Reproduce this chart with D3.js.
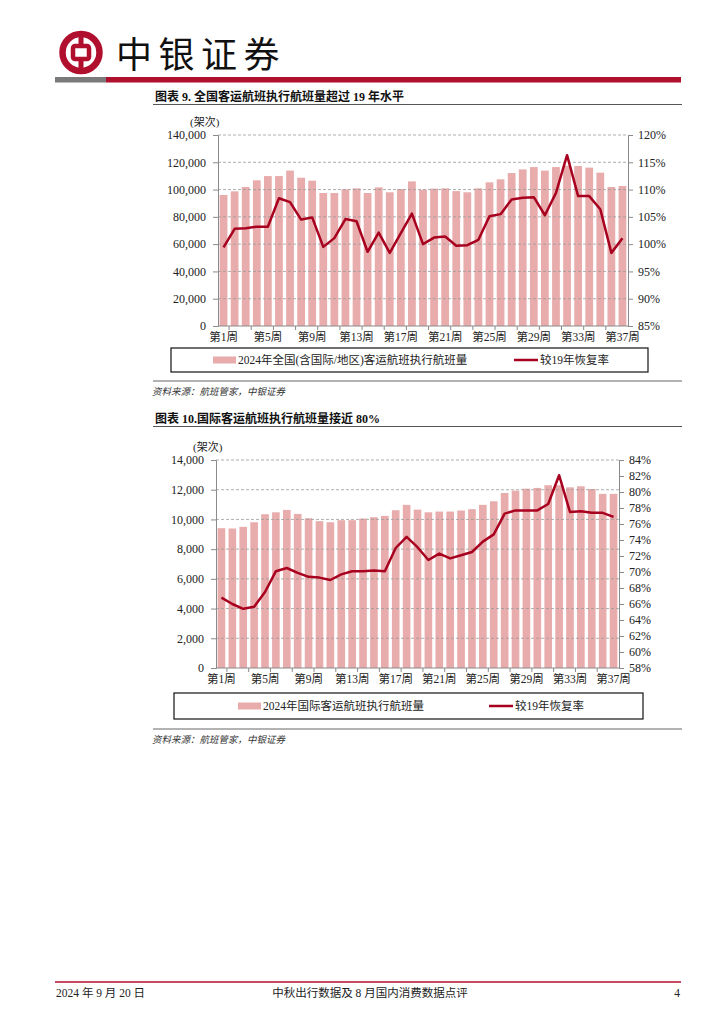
<!DOCTYPE html>
<html>
<head>
<meta charset="utf-8">
<script src="https://cdn.jsdelivr.net/npm/d3@7"></script>
<style>
  html, body { margin: 0; padding: 0; background: #fff; }
  svg { display: block; }
</style>
</head>
<body>
<svg id="page" width="724" height="1024"></svg>
<script>
// ---------------- DATA ----------------
const weeks = ["第1周","第2周","第3周","第4周","第5周","第6周","第7周","第8周","第9周","第10周",
  "第11周","第12周","第13周","第14周","第15周","第16周","第17周","第18周","第19周","第20周",
  "第21周","第22周","第23周","第24周","第25周","第26周","第27周","第28周","第29周","第30周",
  "第31周","第32周","第33周","第34周","第35周","第36周","第37周"];
const shownWeekLabels = ["第1周","第5周","第9周","第13周","第17周","第21周","第25周","第29周","第33周","第37周"];

// Chart 1: all passenger flights (incl. international / regional)
const allFlights = [96000, 98700, 101900, 106800, 109900, 109900, 113900, 108700, 106500, 97500,
  97500, 100200, 100900, 97500, 101600, 98000, 100400, 106000, 99900, 100700,
  100900, 98900, 98000, 100900, 105300, 107500, 112100, 114800, 116500, 113900,
  116500, 117500, 117300, 116100, 112400, 101900, 102600];
const allRate = [99.4, 102.8, 102.9, 103.2, 103.2, 108.4, 107.7, 104.5, 104.9, 99.5,
  101.1, 104.6, 104.2, 98.6, 102.1, 98.4, 102.0, 105.6, 100.0, 101.2,
  101.4, 99.7, 99.8, 100.8, 105.1, 105.5, 108.2, 108.5, 108.6, 105.3,
  109.4, 116.3, 108.8, 108.8, 106.4, 98.4, 101.1];
const allLeftTicks = [0, 20000, 40000, 60000, 80000, 100000, 120000, 140000];
const allRightTicks = [85, 90, 95, 100, 105, 110, 115, 120];

// Chart 2: international passenger flights
const intlFlights = [9410, 9390, 9500, 9810, 10350, 10480, 10640, 10370, 10080, 9880,
  9810, 9950, 9950, 10060, 10150, 10240, 10620, 10980, 10660, 10480,
  10530, 10530, 10600, 10690, 10980, 11220, 11780, 11940, 12070, 12120,
  12300, 12300, 12160, 12230, 12050, 11720, 11720];
const intlRate = [66.8, 66.0, 65.4, 65.65, 67.5, 70.1, 70.5, 69.9, 69.4, 69.3,
  69.0, 69.7, 70.1, 70.1, 70.2, 70.1, 73.0, 74.4, 73.1, 71.5,
  72.3, 71.7, 72.1, 72.5, 73.8, 74.7, 77.3, 77.7, 77.7, 77.7,
  78.5, 82.1, 77.5, 77.6, 77.4, 77.4, 76.9];
const intlLeftTicks = [0, 2000, 4000, 6000, 8000, 10000, 12000, 14000];
const intlRightTicks = [58, 60, 62, 64, 66, 68, 70, 72, 74, 76, 78, 80, 82, 84];

// ---------------- STYLE ----------------
const FONT = "'Liberation Serif', 'Noto Sans CJK SC', serif";
const BAR_COLOR = "#e8acac";
const LINE_COLOR = "#a8001f";
const BRAND_RED = "#b10f2e";
const AXIS_COLOR = "#8a8a8a";
const GRID_COLOR = "#9a9a9a";

const svg = d3.select("#page");

// ---------------- HEADER ----------------
const logo = svg.append("g").attr("transform", "translate(81,52.5)");
logo.append("circle").attr("r", 18.5).attr("fill", "none").attr("stroke", BRAND_RED).attr("stroke-width", 6.5);
logo.append("rect").attr("x", -8).attr("y", -6.5).attr("width", 16).attr("height", 13).attr("rx", 2)
  .attr("fill", "none").attr("stroke", BRAND_RED).attr("stroke-width", 4.5);
logo.append("rect").attr("x", -2.5).attr("y", -19).attr("width", 5).attr("height", 11).attr("fill", BRAND_RED);
logo.append("rect").attr("x", -2.5).attr("y", 8).attr("width", 5).attr("height", 11).attr("fill", BRAND_RED);

svg.append("text").attr("x", 116).attr("y", 52).attr("dominant-baseline", "central")
  .attr("font-family", "'Noto Sans CJK SC', sans-serif").attr("font-size", 36)
  .attr("letter-spacing", 6.5).attr("fill", "#111").text("中银证券");

svg.append("rect").attr("x", 55).attr("y", 77).attr("width", 51).attr("height", 5.5).attr("fill", "#7a7a7a");
svg.append("rect").attr("x", 106).attr("y", 77).attr("width", 575).attr("height", 5.5).attr("fill", BRAND_RED);

// ---------------- FOOTER ----------------
svg.append("line").attr("x1", 55).attr("x2", 681).attr("y1", 982).attr("y2", 982)
  .attr("stroke", BRAND_RED).attr("stroke-width", 1.3);
svg.append("text").attr("x", 56).attr("y", 993).attr("dominant-baseline", "central")
  .attr("font-family", FONT).attr("font-size", 11.5).attr("fill", "#222").text("2024 年 9 月 20 日");
svg.append("text").attr("x", 370).attr("y", 993).attr("dominant-baseline", "central").attr("text-anchor", "middle")
  .attr("font-family", FONT).attr("font-size", 11.5).attr("fill", "#222").text("中秋出行数据及 8 月国内消费数据点评");
svg.append("text").attr("x", 680).attr("y", 993).attr("dominant-baseline", "central").attr("text-anchor", "end")
  .attr("font-family", FONT).attr("font-size", 11.5).attr("fill", "#222").text("4");

// ---------------- CHART FUNCTION ----------------
function drawChart(cfg) {
  const g = svg.append("g");
  // title and underline
  g.append("text").attr("x", 155).attr("y", cfg.titleY).attr("dominant-baseline", "central")
    .attr("font-family", FONT).attr("font-size", 12).attr("font-weight", "bold").attr("fill", "#111")
    .text(cfg.title);
  g.append("line").attr("x1", 153).attr("x2", 682).attr("y1", cfg.titleY + 7.5).attr("y2", cfg.titleY + 7.5)
    .attr("stroke", "#555").attr("stroke-width", 1.2);

  const x = d3.scaleBand().domain(weeks).range([cfg.left, cfg.right]).paddingInner(0.3).paddingOuter(0.15);
  const yL = d3.scaleLinear().domain([cfg.leftTicks[0], cfg.leftTicks[cfg.leftTicks.length - 1]]).range([cfg.bottom, cfg.top]);
  const yR = d3.scaleLinear().domain([cfg.rightTicks[0], cfg.rightTicks[cfg.rightTicks.length - 1]]).range([cfg.bottom, cfg.top]);

  // unit label
  g.append("text").attr("x", cfg.unitX).attr("y", cfg.unitY).attr("dominant-baseline", "central")
    .attr("font-family", FONT).attr("font-size", 11).attr("fill", "#222").text("(架次)");

  // bars
  g.append("g").selectAll("rect").data(cfg.bars).join("rect")
    .attr("x", (d, i) => x(weeks[i]))
    .attr("width", x.bandwidth())
    .attr("y", d => yL(d))
    .attr("height", d => yL(0) - yL(d))
    .attr("fill", BAR_COLOR);

  // gridlines
  g.append("g").selectAll("line").data(cfg.leftTicks.slice(1)).join("line")
    .attr("x1", cfg.left).attr("x2", cfg.right)
    .attr("y1", d => yL(d)).attr("y2", d => yL(d))
    .attr("stroke", GRID_COLOR).attr("stroke-width", 0.8).attr("stroke-dasharray", "3,2");

  // left axis
  const axL = g.append("g").attr("transform", `translate(${cfg.left},0)`)
    .call(d3.axisLeft(yL).tickValues(cfg.leftTicks).tickSize(5).tickPadding(7).tickFormat(d3.format(",")));
  // right axis
  const axR = g.append("g").attr("transform", `translate(${cfg.right},0)`)
    .call(d3.axisRight(yR).tickValues(cfg.rightTicks).tickSize(5).tickPadding(5).tickFormat(d => d + "%"));
  // bottom axis
  const axB = g.append("g").attr("transform", `translate(0,${cfg.bottom})`)
    .call(d3.axisBottom(x).tickValues(shownWeekLabels).tickSize(0).tickPadding(7));
  [axL, axR, axB].forEach(a => {
    a.select(".domain").attr("stroke", AXIS_COLOR).attr("stroke-width", 1);
    a.selectAll(".tick line").attr("stroke", AXIS_COLOR);
    a.selectAll("text").attr("font-family", FONT).attr("fill", "#222");
  });
  axL.selectAll("text").attr("font-size", 12);
  axR.selectAll("text").attr("font-size", 12);
  axB.selectAll("text").attr("font-size", 11.5);
  axB.select(".domain").attr("d", `M${cfg.left},0H${cfg.right}`);
  // small category ticks on x axis every two weeks
  const tickBounds = d3.range(1, weeks.length, 2).map(k => cfg.left + k * ((cfg.right - cfg.left) / weeks.length));
  g.append("g").selectAll("line").data(tickBounds).join("line")
    .attr("x1", d => d).attr("x2", d => d).attr("y1", cfg.bottom).attr("y2", cfg.bottom + 4)
    .attr("stroke", AXIS_COLOR).attr("stroke-width", 1);

  // line
  const line = d3.line().x((d, i) => x(weeks[i]) + x.bandwidth() / 2).y(d => yR(d));
  g.append("path").datum(cfg.rate).attr("d", line)
    .attr("fill", "none").attr("stroke", LINE_COLOR).attr("stroke-width", 2.5).attr("stroke-linejoin", "round");

  // legend
  const lg = cfg.legend;
  g.append("rect").attr("x", lg.x).attr("y", lg.y).attr("width", lg.w).attr("height", lg.h)
    .attr("fill", "#fff").attr("stroke", "#111").attr("stroke-width", 1.2);
  const cy = lg.y + lg.h / 2;
  g.append("rect").attr("x", lg.barSwatchX).attr("y", cy - 3.5).attr("width", 23).attr("height", 7).attr("fill", BAR_COLOR);
  g.append("text").attr("x", lg.barSwatchX + 25).attr("y", cy).attr("dominant-baseline", "central")
    .attr("font-family", FONT).attr("font-size", lg.barFont).attr("fill", "#222").text(lg.barLabel);
  g.append("line").attr("x1", lg.lineSwatchX).attr("x2", lg.lineSwatchX + 24).attr("y1", cy).attr("y2", cy)
    .attr("stroke", LINE_COLOR).attr("stroke-width", 2.5);
  g.append("text").attr("x", lg.lineSwatchX + 26).attr("y", cy).attr("dominant-baseline", "central")
    .attr("font-family", FONT).attr("font-size", 11.5).attr("fill", "#222").text("较19年恢复率");

  // source line and text
  g.append("line").attr("x1", 153).attr("x2", 682).attr("y1", cfg.srcLineY).attr("y2", cfg.srcLineY)
    .attr("stroke", "#666").attr("stroke-width", 1);
  g.append("text").attr("x", 152).attr("y", cfg.srcLineY + 11).attr("dominant-baseline", "central")
    .attr("font-family", FONT).attr("font-size", 9.5).attr("font-style", "italic").attr("fill", "#333")
    .text("资料来源：航班管家，中银证券");
}

drawChart({
  title: "图表 9. 全国客运航班执行航班量超过 19 年水平",
  titleY: 97,
  left: 218, right: 628, top: 135, bottom: 326,
  unitX: 190, unitY: 122,
  bars: allFlights, rate: allRate,
  leftTicks: allLeftTicks, rightTicks: allRightTicks,
  legend: { x: 171, y: 348, w: 477, h: 24, barSwatchX: 213, barFont: 11.5,
            barLabel: "2024年全国(含国际/地区)客运航班执行航班量", lineSwatchX: 514 },
  srcLineY: 381
});

drawChart({
  title: "图表 10.国际客运航班执行航班量接近 80%",
  titleY: 419,
  left: 216, right: 619, top: 460, bottom: 668,
  unitX: 193, unitY: 447,
  bars: intlFlights, rate: intlRate,
  leftTicks: intlLeftTicks, rightTicks: intlRightTicks,
  legend: { x: 174, y: 693, w: 469, h: 26, barSwatchX: 238, barFont: 11.5,
            barLabel: "2024年国际客运航班执行航班量", lineSwatchX: 489 },
  srcLineY: 729
});
</script>
</body>
</html>
